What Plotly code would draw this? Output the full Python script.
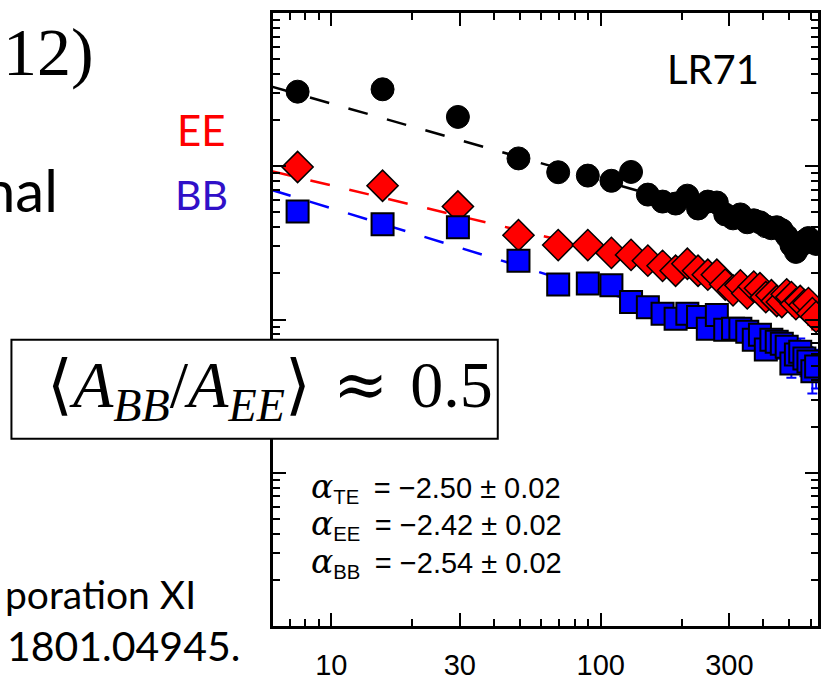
import plotly.graph_objects as go

# ---- binned dust power spectra, LR71 mask (D_ell in uK^2) ----
ell = [7.5, 15.5, 29.5, 49.5, 69.5, 89.5, 109.5, 129.5, 149.5, 169.5, 189.5,
       209.5, 229.5, 249.5, 269.5, 289.5, 309.5, 329.5, 349.5, 369.5, 389.5,
       409.5, 429.5, 449.5, 469.5, 489.5, 509.5, 529.5, 549.5, 569.5, 589.5,
       609.5, 629.5]

d_te = [3067, 3178, 2098, 1125, 914, 869, 804, 918, 653, 588, 571, 643, 530,
        588, 580, 485, 457, 485, 431, 444, 431, 406, 394, 400, 383, 350, 306,
        276, 302, 325, 340, 320, 311]

d_ee = [989, 746, 546, 355, 306, 306, 272, 264, 242, 224, 208, 231, 208, 196,
        196, 169, 155, 167, 148, 164, 160, 140, 144, 132, 130, 146, 140, 126,
        132, 124, 128, 110, 104]

d_bb = [507, 418, 400, 242, 169, 172, 167, 130, 120, 109, 101, 109, 104, 86.9,
        107, 85.6, 86.9, 86.9, 83.1, 73.8, 79.5, 63.6, 73.8, 71.6, 69.5, 66.5,
        51.7, 59.1, 61.7, 55.7, 53.2, 45.9, 49.4]

err_ee = [40, 25, 15, 10, 8, 8, 8, 8, 8, 8, 8, 9, 9, 10, 10, 11, 11, 12, 12,
          14, 14, 15, 20, 18, 18, 20, 20, 20, 21, 20, 22, 18, 18]

err_bb = [30, 20, 15, 8, 6, 6, 6, 6, 6, 6, 6, 6, 6, 6, 7, 7, 7, 8, 8, 8, 9, 8,
          10, 14, 14, 13, 10, 13, 13.5, 13, 13, 13, 14]

# power-law fits D_ell = A (ell/80)^(alpha+2)
ell_pivot = 80.0
amp_te, amp_ee, amp_bb = 907.0, 313.0, 173.0
alpha_te, alpha_ee, alpha_bb = -2.50, -2.42, -2.54
fit_ell = [6.0, 660.0]

x_ticks = [10, 30, 100, 300]
x_tick_text = ["10", "30", "100", "300"]
x_minor = [7, 8, 9, 20, 40, 50, 60, 70, 80, 90, 200, 400, 500, 600]
y_major = [1, 10, 100, 1000, 10000]
y_minor = [m * d for d in (1, 10, 100, 1000) for m in range(2, 10)]

# ---- page geometry (pixels) ----
W, H = 821, 681
L, R, T, B = 273, 0, 13, 49


def px(x):
    return (x - L) / (W - L - R)


def py(y):
    return (H - B - y) / (H - T - B)


fig = go.Figure()


def fit_curve(amp, alpha):
    return [amp * (l / ell_pivot) ** (alpha + 2) for l in fit_ell]


for amp, alpha, col in [(amp_te, alpha_te, "black"),
                        (amp_ee, alpha_ee, "#ff0000"),
                        (amp_bb, alpha_bb, "#0000ff")]:
    fig.add_trace(go.Scatter(
        x=fit_ell, y=fit_curve(amp, alpha), mode="lines",
        line=dict(color=col, width=2.5, dash="20px,20px"),
        hoverinfo="skip"))

fig.add_trace(go.Scatter(
    x=ell, y=d_ee, mode="markers", name="EE",
    marker=dict(symbol="diamond", size=24, color="#ff0000",
                line=dict(color="black", width=1.5)),
    error_y=dict(type="data", array=err_ee, color="#ff0000",
                 thickness=2, width=5)))

fig.add_trace(go.Scatter(
    x=ell, y=d_bb, mode="markers", name="BB",
    marker=dict(symbol="square", size=22, color="#0000ff",
                line=dict(color="black", width=2)),
    error_y=dict(type="data", array=err_bb, color="#0000ff",
                 thickness=2, width=5)))

fig.add_trace(go.Scatter(
    x=ell, y=d_te, mode="markers", name="TE",
    marker=dict(symbol="circle", size=23, color="black",
                line=dict(color="black", width=1))))

axis_common = dict(type="log", ticks="inside", ticklen=13, tickwidth=2,
                   tickcolor="black", showline=True, linewidth=2.5,
                   linecolor="black", mirror="ticks", showgrid=False,
                   zeroline=False)

fig.update_xaxes(
    **axis_common,
    range=[0.7838, 2.8059],
    tickvals=x_ticks, ticktext=x_tick_text,
    ticklabelstandoff=11,
    tickfont=dict(family="Liberation Sans", size=29, color="black"),
    minor=dict(tickvals=x_minor, ticks="inside", ticklen=7, tickwidth=2,
               tickcolor="black", showgrid=False))

fig.update_yaxes(
    **axis_common,
    range=[0, 4],
    tickvals=y_major, showticklabels=False,
    minor=dict(tickvals=y_minor, ticks="inside", ticklen=7, tickwidth=2,
               tickcolor="black", showgrid=False))

# ratio box
fig.add_shape(type="rect", xref="paper", yref="paper",
              x0=px(10), x1=px(499), y0=py(443), y1=py(343),
              line=dict(color="black", width=2), fillcolor="white",
              layer="above")


def label(text, x, y, xanchor, size, family, color="black"):
    fig.add_annotation(text=text, x=px(x), y=py(y), xref="paper",
                       yref="paper", xanchor=xanchor, yanchor="middle",
                       showarrow=False,
                       font=dict(family=family, size=size, color=color))


label("12)", 0, 52, "left", 68, "Liberation Serif")
label("nal", 59, 191, "right", 58, "Lato")
label("EE", 174, 131, "left", 42, "Lato", "#ff0000")
label("BB", 172, 196, "left", 41, "Lato", "#3010c8")
label("poration XI", 198, 600, "right", 39, "Lato")
label("1801.04945.", 242, 652, "right", 41, "Lato")
label("LR71", 667, 70, "left", 40, "Lato")

approx = "<span style=\"font-family:'DejaVu Serif'\">≈</span>"
ratio_text = ("⟨<i>A</i><sub><i>BB</i></sub>/<i>A</i><sub><i>EE</i></sub>⟩"
              "\u2004" + approx + "\u2004" + "0.5")
label(ratio_text, 496, 392, "right", 66, "Liberation Serif")

alpha_sym = ("<span style=\"font-family:'DejaVu Serif';font-size:33px\">"
             "<i>α</i></span>")
for sub, val, yc in [("TE", "2.50", 492), ("EE", "2.42", 530),
                     ("BB", "2.54", 568)]:
    label(alpha_sym + "<sub>" + sub + "</sub>\u2002= −" + val + " ± 0.02",
          309, yc, "left", 29, "Liberation Sans")

fig.update_layout(
    width=W, height=H,
    margin=dict(l=L, r=R, t=T, b=B, pad=0),
    showlegend=False,
    plot_bgcolor="white", paper_bgcolor="white")

fig.write_html("out.html")
